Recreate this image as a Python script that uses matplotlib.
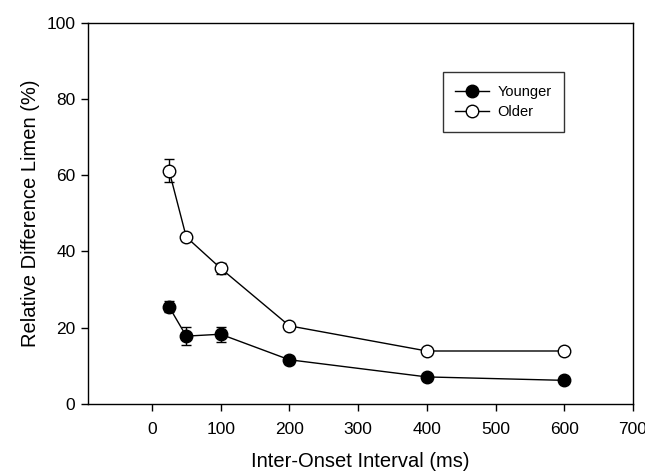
import matplotlib
matplotlib.use("Agg")
import matplotlib.pyplot as plt
from matplotlib.lines import Line2D

# Inter-onset intervals (ms)
ioi = [25, 50, 100, 200, 400, 600]

# Relative difference limen (%) and standard errors
younger = [25.5, 17.8, 18.3, 11.6, 7.1, 6.2]
younger_err = [1.5, 2.3, 2.0, 1.0, 0.6, 0.5]
older = [61.2, 43.8, 35.6, 20.5, 13.9, 13.9]
older_err = [3.0, 1.0, 1.5, 0.8, 0.6, 0.6]

xticks = [0, 100, 200, 300, 400, 500, 600, 700]
yticks = [0, 20, 40, 60, 80, 100]

plt.rcParams['font.family'] = ['Liberation Sans', 'DejaVu Sans']

fig = plt.figure(figsize=(6.45, 4.73), dpi=100)
ax = fig.add_axes([0.1364, 0.1459, 0.845, 0.806])

style = dict(color='black', marker='o', markersize=9, markeredgecolor='black',
             linewidth=1, elinewidth=1, capsize=3.5, capthick=1)
ax.errorbar(ioi, younger, yerr=younger_err, markerfacecolor='black', **style)
ax.errorbar(ioi, older, yerr=older_err, markerfacecolor='white', **style)

ax.set_xlim(-93, 700)
ax.set_ylim(0, 100)
ax.set_xticks(xticks)
ax.set_yticks(yticks)
ax.tick_params(direction='out', length=5, width=1, labelsize=12.5)
ax.tick_params(axis='x', pad=8)
ax.tick_params(axis='y', pad=4)
for s in ax.spines.values():
    s.set_linewidth(1)

ax.set_xlabel('Inter-Onset Interval (ms)', fontsize=14.5, labelpad=11)
ax.set_ylabel('Relative Difference Limen (%)', fontsize=14.5, labelpad=5)

# legend handles: line with marker, no error bars
handles = [
    Line2D([], [], color='black', marker='o', markersize=9, linewidth=1,
           markerfacecolor='black', markeredgecolor='black'),
    Line2D([], [], color='black', marker='o', markersize=9, linewidth=1,
           markerfacecolor='white', markeredgecolor='black'),
]
leg = ax.legend(handles, ['Younger', 'Older'], loc='upper left',
                bbox_to_anchor=(0.651, 0.870), fontsize=10.5,
                frameon=True, fancybox=False, edgecolor='black',
                handlelength=2.3, borderpad=0.85, labelspacing=0.45,
                handletextpad=0.6, borderaxespad=0)
leg.get_frame().set_linewidth(1)

fig.savefig('out.png', dpi=100)
